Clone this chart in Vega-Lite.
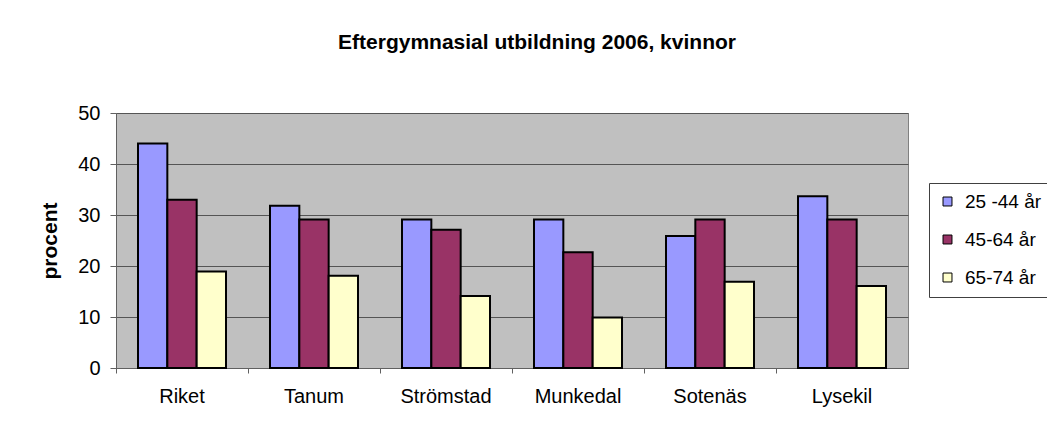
{
  "$schema": "https://vega.github.io/schema/vega-lite/v6.json",
  "width": 792,
  "height": 255,
  "autosize": "none",
  "padding": {"left": 116, "top": 113, "right": 139, "bottom": 67},
  "background": "white",
  "title": {
    "text": "Eftergymnasial utbildning 2006, kvinnor",
    "font": "Liberation Sans",
    "fontSize": 21,
    "fontWeight": "bold",
    "color": "#000000",
    "anchor": "middle",
    "dx": 25,
    "offset": 50
  },
  "data": {
    "values": [
      {"kommun": "Riket", "grupp": "25 -44 år", "procent": 44.0},
      {"kommun": "Riket", "grupp": "45-64 år", "procent": 33.0},
      {"kommun": "Riket", "grupp": "65-74 år", "procent": 18.9},
      {"kommun": "Tanum", "grupp": "25 -44 år", "procent": 31.8},
      {"kommun": "Tanum", "grupp": "45-64 år", "procent": 29.1},
      {"kommun": "Tanum", "grupp": "65-74 år", "procent": 18.1},
      {"kommun": "Strömstad", "grupp": "25 -44 år", "procent": 29.1},
      {"kommun": "Strömstad", "grupp": "45-64 år", "procent": 27.1},
      {"kommun": "Strömstad", "grupp": "65-74 år", "procent": 14.1},
      {"kommun": "Munkedal", "grupp": "25 -44 år", "procent": 29.1},
      {"kommun": "Munkedal", "grupp": "45-64 år", "procent": 22.7},
      {"kommun": "Munkedal", "grupp": "65-74 år", "procent": 9.9},
      {"kommun": "Sotenäs", "grupp": "25 -44 år", "procent": 25.9},
      {"kommun": "Sotenäs", "grupp": "45-64 år", "procent": 29.1},
      {"kommun": "Sotenäs", "grupp": "65-74 år", "procent": 16.9},
      {"kommun": "Lysekil", "grupp": "25 -44 år", "procent": 33.7},
      {"kommun": "Lysekil", "grupp": "45-64 år", "procent": 29.1},
      {"kommun": "Lysekil", "grupp": "65-74 år", "procent": 16.1}
    ]
  },
  "mark": {"type": "bar", "stroke": "#000000", "strokeWidth": 2},
  "encoding": {
    "x": {
      "field": "kommun",
      "type": "nominal",
      "sort": ["Riket", "Tanum", "Strömstad", "Munkedal", "Sotenäs", "Lysekil"],
      "scale": {"paddingInner": 0, "paddingOuter": 0},
      "axis": {
        "title": null,
        "labelAngle": 0,
        "bandPosition": 0,
        "labelFont": "Liberation Sans",
        "labelFontSize": 20,
        "labelColor": "#000000",
        "labelPadding": 13,
        "tickSize": 5,
        "tickColor": "#606060",
        "domainColor": "#606060",
        "grid": false
      }
    },
    "xOffset": {
      "field": "grupp",
      "type": "nominal",
      "scale": {"paddingInner": 0, "paddingOuter": 0.75}
    },
    "y": {
      "field": "procent",
      "type": "quantitative",
      "scale": {"domain": [0, 50], "nice": false},
      "axis": {
        "values": [0, 10, 20, 30, 40, 50],
        "title": "procent",
        "titleFont": "Liberation Sans",
        "titleFontSize": 21,
        "titleFontWeight": "bold",
        "titleColor": "#000000",
        "titleX": -66,
        "titleY": 127.5,
        "titleAngle": -90,
        "titleAlign": "center",
        "titleBaseline": "middle",
        "labelFont": "Liberation Sans",
        "labelFontSize": 20,
        "labelColor": "#000000",
        "labelPadding": 10,
        "tickSize": 6,
        "tickColor": "#606060",
        "domainColor": "#606060",
        "grid": true,
        "gridColor": "#555555",
        "gridOpacity": 1,
        "gridWidth": 1
      }
    },
    "color": {
      "field": "grupp",
      "type": "nominal",
      "scale": {
        "domain": ["25 -44 år", "45-64 år", "65-74 år"],
        "range": ["#9999FF", "#993366", "#FFFFCC"]
      },
      "legend": {
        "title": null,
        "orient": "none",
        "legendX": 813,
        "legendY": 70,
        "strokeColor": "#404040",
        "fillColor": "#FFFFFF",
        "padding": 9,
        "symbolType": "square",
        "symbolSize": 80,
        "symbolStrokeColor": "#000000",
        "symbolStrokeWidth": 1,
        "labelFont": "Liberation Sans",
        "labelFontSize": 19,
        "labelColor": "#000000",
        "labelOffset": 8,
        "rowPadding": 18
      }
    }
  },
  "config": {
    "view": {"fill": "#C0C0C0", "stroke": "#808080", "strokeWidth": 1}
  }
}
